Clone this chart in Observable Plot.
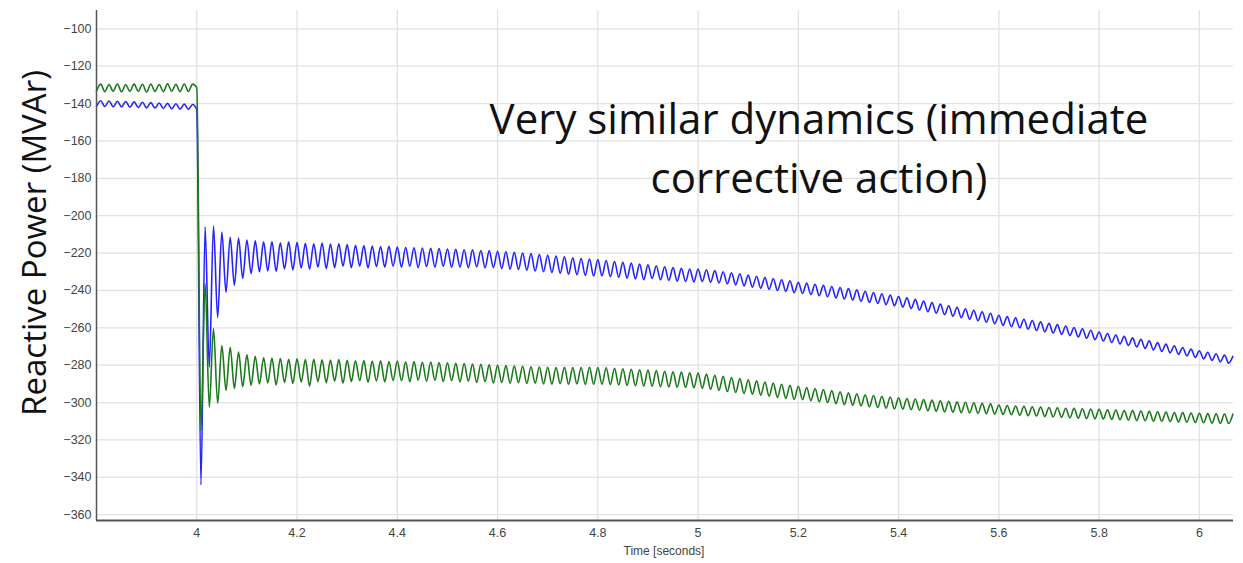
<!DOCTYPE html>
<html>
<head>
<meta charset="utf-8">
<script src="https://cdn.jsdelivr.net/npm/d3@7"></script>
<script src="https://cdn.jsdelivr.net/npm/@observablehq/plot@0.6"></script>
<style>
  html, body { margin: 0; padding: 0; background: #fff; }
  #wrap { position: relative; width: 1243px; height: 563px; overflow: hidden; }
  #ylab { position: absolute; left: 33px; top: 243px; transform: translate(-50%, -50%) rotate(-90deg);
          font-family: "Open Sans", "Noto Sans", sans-serif; font-size: 33px; color: #111; white-space: nowrap; }
  #note { position: absolute; left: 819px; top: 88px; transform: translateX(-50%); text-align: center;
          font-family: "Open Sans", "Noto Sans", sans-serif; font-size: 42px; line-height: 59px; color: #111; white-space: nowrap; }
  #xlab { position: absolute; left: 664px; top: 544px; transform: translateX(-50%);
          font-family: "Liberation Sans", Arial, sans-serif; font-size: 12px; color: #444; white-space: nowrap; }
</style>
</head>
<body>
<div id="wrap">
  <div id="chart"></div>
  <div id="ylab">Reactive Power (MVAr)</div>
  <div id="note">Very similar dynamics (immediate<br>corrective action)</div>
  <div id="xlab">Time [seconds]</div>
</div>
<script>
// Sampling of the series: one value per half cycle of the 60 Hz ripple
const sampleStart = 3.8;
const sampleStep = 1 / 120;

const xDomain = [3.8, 6.068];
const yDomain = [-363.1, -90.2];
const xTicks = [4, 4.2, 4.4, 4.6, 4.8, 5, 5.2, 5.4, 5.6, 5.8, 6];
const yTicks = [-100, -120, -140, -160, -180, -200, -220, -240, -260, -280, -300, -320, -340, -360];

const blueValues = [
  -141.5,-138.5,-141.6,-138.6,-141.7,-138.8,-141.8,-138.9,-142.0,-139.1,-142.1,-139.3,-142.3,-139.5,-142.4,-139.7,-142.6,-139.9,-142.8,-140.1,-143.0,-140.3,-143.1,-140.5,-143.2,
  -344,-206,-281,-205.5,-254.5,-208.8,-241,-211.5,-237.3,-212,-233.6,
  -213,-231,-213.5,-230,-214,-229.5,-213.8,-229.8,-214.5,-228.5,-214,-229,
  -214.3,-228,-214.8,-228.6,-215,-227.5,-214.6,-228.3,-215.2,-227.8,-215,-227,
  -215.5,-227.8,-215.8,-227,-216,-228,-216.2,-227.2,-216.5,-227.6,-216.4,-227,
  -216.8,-227.5,-217,-227,-217.2,-227.8,-217.3,-227.2,-217.5,-227.5,-217.6,-227,
  -217.8,-227.6,-218,-227.5,-218.2,-227.8,-218.3,-227.4,-218.6,-228,-218.8,-227.8,
  -219,-228.3,-219.3,-228.6,-219.6,-228.8,-220,-229.2,-220.3,-229.6,-220.8,-230,
  -221.2,-230.4,-221.6,-230.8,-222,-231.3,-222.5,-231.6,-222.9,-232,-223.2,-232.3,
  -223.5,-232.2,-224,-232.6,-224.5,-233,-225,-233.4,-225.4,-233.8,-225.9,-234.2,
  -226.3,-233.6,-226.8,-234.3,-227.3,-234.6,-227.8,-235,-228.2,-235.2,-228.6,-235.4,
  -228.5,-235.2,-228.9,-235.6,-229.4,-236,-230,-236.5,-230.5,-237,-231.1,-237.6,
  -231.8,-238.2,-232.4,-238.8,-233,-239.4,-233.6,-240,-234.3,-240.5,-234.8,-241.2,
  -235.6,-241.6,-236.1,-242.2,-236.7,-242.8,-237.3,-243.4,-237.9,-244,-238.5,-244.6,
  -239,-245.1,-239.7,-245.8,-240.4,-246.4,-241.1,-247,-241.8,-247.6,-242.5,-248.2,
  -243.2,-248.9,-244,-249.7,-244.8,-250.5,-245.7,-251.4,-246.5,-252.2,-247.3,-253,
  -248.2,-253.8,-249,-254.6,-249.8,-255.4,-250.6,-256.2,-251.4,-257,-252.2,-257.8,
  -253.3,-258.7,-254,-259.4,-254.7,-260,-255.4,-260.7,-256.1,-261.4,-256.8,-262.1,
  -257.6,-262.8,-258.3,-263.5,-259,-264.2,-259.8,-264.9,-260.5,-265.6,-261.3,-266.3,
  -262.2,-267,-263,-267.8,-263.8,-268.6,-264.6,-269.4,-265.4,-270.2,-266.2,-271,
  -267,-271.8,-267.9,-272.6,-268.7,-273.4,-269.6,-274.2,-270.5,-275,-271.4,-275.8,
  -272.3,-276.6,-273.1,-277.4,-273.9,-278.2,-274.6,-278.9,-275.3
];

const greenValues = [
  -133.3,-129.6,-133.6,-129.8,-133.4,-129.5,-133.7,-129.9,-133.5,-129.6,-133.4,-129.7,-133.8,-129.5,-133.5,-129.8,-133.6,-129.4,-133.4,-129.7,-133.6,-129.5,-133.5,-129.6,-131.5,
  -315,-236.3,-302.5,-260.3,-300.3,-269.5,-293.5,-270.4,-292.5,-273,-291.5,
  -274.5,-290.8,-275.2,-290,-276,-289.5,-276.2,-290.6,-276.4,-289.2,-276.8,-289.8,
  -276.6,-289,-277,-291.2,-276.8,-288.8,-277.1,-289.4,-277.3,-288.6,-277,-289.6,
  -277.4,-288.7,-277.6,-288.2,-277.5,-289.2,-277.8,-288.4,-277.7,-288.9,-278,-288.2,
  -277.8,-288.3,-278.2,-288.8,-278,-288,-278.4,-288.6,-278.3,-288.1,-278.6,-288.7,
  -278.7,-288.3,-279,-288.9,-279.1,-288.5,-279.4,-289.2,-279.5,-288.8,-279.8,-289.5,
  -280,-289.2,-280.2,-289.6,-280.4,-289.3,-280.6,-289.8,-280.8,-289.6,-281,-290,
  -281.1,-290.1,-281.2,-289.9,-281.1,-290.2,-281.3,-290,-281.2,-290.3,-281.1,-290.2,
  -281.2,-290.2,-281.4,-290.4,-281.6,-290.6,-281.9,-290.8,-282.2,-291,-282.4,-291.1,
  -282.6,-291.3,-282.9,-291.5,-283.2,-291.6,-283.5,-291.8,-283.7,-291.9,-284,-292.1,
  -284.2,-292.4,-284.8,-292.9,-285.4,-293.5,-286,-294.1,-286.6,-294.6,-287.2,-295.2,
  -287.8,-295.5,-288.4,-296,-289,-296.6,-289.6,-297.2,-290.2,-297.8,-290.8,-298.3,
  -291.3,-298.4,-291.9,-299,-292.5,-299.5,-293,-300,-293.6,-300.6,-294.2,-301.1,
  -294.8,-301.4,-295.3,-301.8,-295.8,-302.2,-296.2,-302.6,-296.6,-303,-297,-303.4,
  -297.4,-303.5,-297.8,-303.8,-298.1,-304.1,-298.4,-304.4,-298.7,-304.7,-299,-305,
  -299.3,-305.2,-299.6,-305.4,-299.8,-305.6,-300.1,-305.8,-300.4,-306,-300.7,-306.2,
  -301.3,-306.3,-301.6,-306.5,-301.8,-306.8,-302,-307,-302.2,-307.2,-302.4,-307.5,
  -302.6,-307.7,-302.8,-307.9,-303,-308.2,-303.1,-308.4,-303.3,-308.6,-303.4,-308.7,
  -303.6,-308.8,-303.8,-309,-304,-309.2,-304.2,-309.4,-304.3,-309.6,-304.5,-309.7,
  -304.7,-309.9,-304.9,-310,-305.1,-310.2,-305.3,-310.4,-305.4,-310.5,-305.6,-310.7,
  -305.7,-310.8,-305.9,-311,-306,-311.1,-306.1,-311.2,-306.2
];

const toRows = (vals) => vals.map((v, i) => ({ t: sampleStart + i * sampleStep, v }));
const blueRows = toRows(blueValues);
const greenRows = toRows(greenValues);

const fmt = d3.format("~g");

const chart = Plot.plot({
  width: 1243,
  height: 563,
  marginLeft: 96,
  marginRight: 10,
  marginTop: 10,
  marginBottom: 43,
  style: { fontFamily: "'Liberation Sans', Arial, sans-serif", fontSize: "12.5px", color: "#444", background: "#fff" },
  x: { domain: xDomain, ticks: xTicks },
  y: { domain: yDomain, ticks: yTicks },
  marks: [
    Plot.gridX(xTicks, { stroke: "#e2e2e2", strokeOpacity: 1, strokeWidth: 1.3 }),
    Plot.gridY(yTicks, { stroke: "#e2e2e2", strokeOpacity: 1, strokeWidth: 1.3 }),
    Plot.axisX(xTicks, { tickSize: 0, tickPadding: 8, tickFormat: fmt, label: null, fill: "#444" }),
    Plot.axisY(yTicks, { tickSize: 0, tickPadding: 5, tickFormat: fmt, label: null, fill: "#444" }),
    Plot.line(blueRows, { x: "t", y: "v", stroke: "#2424ff", strokeWidth: 1.6, curve: "monotone-x" }),
    Plot.line(greenRows, { x: "t", y: "v", stroke: "#1c7a1c", strokeWidth: 1.6, curve: "monotone-x" }),
    Plot.ruleX([xDomain[0]], { stroke: "#555", strokeWidth: 1.5 }),
    Plot.ruleY([yDomain[0]], { stroke: "#555", strokeWidth: 2 })
  ]
});
document.getElementById("chart").appendChild(chart);
</script>
</body>
</html>
